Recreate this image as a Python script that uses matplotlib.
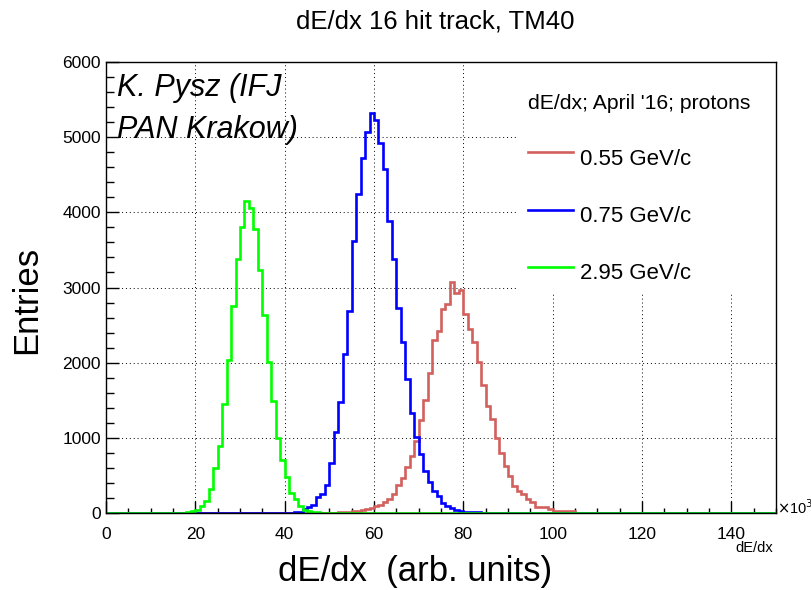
#!/usr/bin/env python3
"""
Plot dE/dx distributions for 16 hit tracks (TM40), April '16 proton beams,
drawn ROOT-style as step histograms with 1e3 wide bins.
"""

import numpy as np
import matplotlib.pyplot as plt
from matplotlib.patches import Rectangle
from matplotlib.ticker import MultipleLocator

plt.rcParams['font.family'] = ['Liberation Sans', 'DejaVu Sans']

# histogram range (units of 10^3), one bin per unit
x_min, x_max = 0, 150

# per-momentum bin contents, starting at the given bin
labels = ['0.55 GeV/c', '0.75 GeV/c', '2.95 GeV/c']
colors = ['#d2605c', '#0000ff', '#00ff00']

red_first_bin = 52
red_counts = [10, 15, 20, 25, 30, 40, 50, 70, 90, 110,
              150, 190, 250, 370, 467, 609, 764, 964, 1231, 1507,
              1862, 2298, 2422, 2720, 2787, 3076, 2933, 2964, 2653, 2453,
              2276, 2004, 1698, 1418, 1253, 1000, 796, 622, 498, 364,
              298, 253, 187, 142, 84, 84, 84, 53, 31, 31,
              22, 22, 22, 5]

blue_first_bin = 41
blue_counts = [3, 10, 20, 49, 80, 102, 212, 257, 367, 664,
               1075, 1473, 2115, 2690, 3620, 4240, 4725, 5066, 5323, 5226,
               4925, 4570, 3885, 3376, 2730, 2276, 1780, 1330, 1010, 780,
               565, 410, 295, 220, 130, 95, 60, 40, 28, 20,
               15, 10, 8, 5]

green_first_bin = 18
green_counts = [10, 22, 45, 90, 155, 325, 600, 890, 1450, 2040,
                2750, 3380, 3810, 4155, 4060, 3780, 3230, 2640, 2010, 1490,
                1000, 710, 480, 260, 180, 90, 45, 30, 15, 8,
                4]

x_ticks = np.arange(0, 141, 20)
y_ticks = np.arange(0, 6001, 1000)


def full_hist(first_bin, counts):
    """Pad the bin contents with zeros over the whole histogram range."""
    h = np.zeros(x_max - x_min)
    h[first_bin - x_min:first_bin - x_min + len(counts)] = counts
    return h


def main():
    fig = plt.figure(figsize=(8.12, 5.9), dpi=100)
    ax = fig.add_axes([0.1305, 0.1305, 0.8252, 0.7644])

    edges = np.arange(x_min, x_max + 1)
    hists = [full_hist(red_first_bin, red_counts),
             full_hist(blue_first_bin, blue_counts),
             full_hist(green_first_bin, green_counts)]
    for h, c in zip(hists, colors):
        ax.stairs(h, edges, color=c, linewidth=1.9, baseline=None, zorder=2)

    ax.set_xlim(x_min, x_max)
    ax.set_ylim(0, 6000)
    ax.set_xticks(x_ticks)
    ax.set_yticks(y_ticks)
    ax.xaxis.set_minor_locator(MultipleLocator(5))
    ax.yaxis.set_minor_locator(MultipleLocator(200))
    ax.tick_params(axis='both', which='both', direction='in', labelsize=12.5,
                   top=False, right=False, width=1)
    ax.tick_params(axis='x', which='major', length=9, pad=10)
    ax.tick_params(axis='x', which='minor', length=3.6)
    ax.tick_params(axis='y', which='major', length=9, pad=3.5)
    ax.tick_params(axis='y', which='minor', length=5.5)
    for s in ax.spines.values():
        s.set_linewidth(1)

    ax.set_axisbelow(True)
    ax.grid(True, which='major', color='black', linestyle=(0, (1, 3)), linewidth=0.7)

    # legend pad covers the grid in the top right corner
    ax.add_patch(Rectangle((0.613, 0.49), 0.387, 0.51, transform=ax.transAxes,
                           facecolor='white', edgecolor='none', zorder=1.5))
    ax.text(0.7955, 0.909, "dE/dx; April '16; protons", transform=ax.transAxes,
            ha='center', va='center', fontsize=15.2, zorder=4)
    line_y = [0.800, 0.672, 0.545]
    text_y = [0.783, 0.6585, 0.532]
    for lab, c, ly, ty in zip(labels, colors, line_y, text_y):
        ax.plot([0.630, 0.697], [ly, ly], color=c, linewidth=1.9,
                transform=ax.transAxes, zorder=4)
        ax.text(0.7075, ty, lab, transform=ax.transAxes,
                ha='left', va='center', fontsize=16, zorder=4)

    ax.text(0.016, 0.942, 'K. Pysz (IFJ', transform=ax.transAxes, style='italic',
            ha='left', va='center', fontsize=22)
    ax.text(0.016, 0.849, 'PAN Krakow)', transform=ax.transAxes, style='italic',
            ha='left', va='center', fontsize=22)

    ax.text(1.001, 0.012, r'$\times$10$^{3}$', transform=ax.transAxes,
            ha='left', va='center', fontsize=10.5)

    fig.text(435 / 812, 1 - 22 / 590, 'dE/dx 16 hit track, TM40',
             ha='center', va='center', fontsize=18.5)
    fig.text(773 / 812, 1 - 548 / 590, 'dE/dx', ha='right', va='center', fontsize=10.5)
    fig.text(415 / 812, 1 - 572 / 590, 'dE/dx  (arb. units)',
             ha='center', va='center', fontsize=25)
    fig.text(27 / 812, 1 - 300 / 590, 'Entries', rotation=90,
             ha='center', va='center', fontsize=25)

    fig.savefig('out.png', dpi=100)


if __name__ == '__main__':
    main()
